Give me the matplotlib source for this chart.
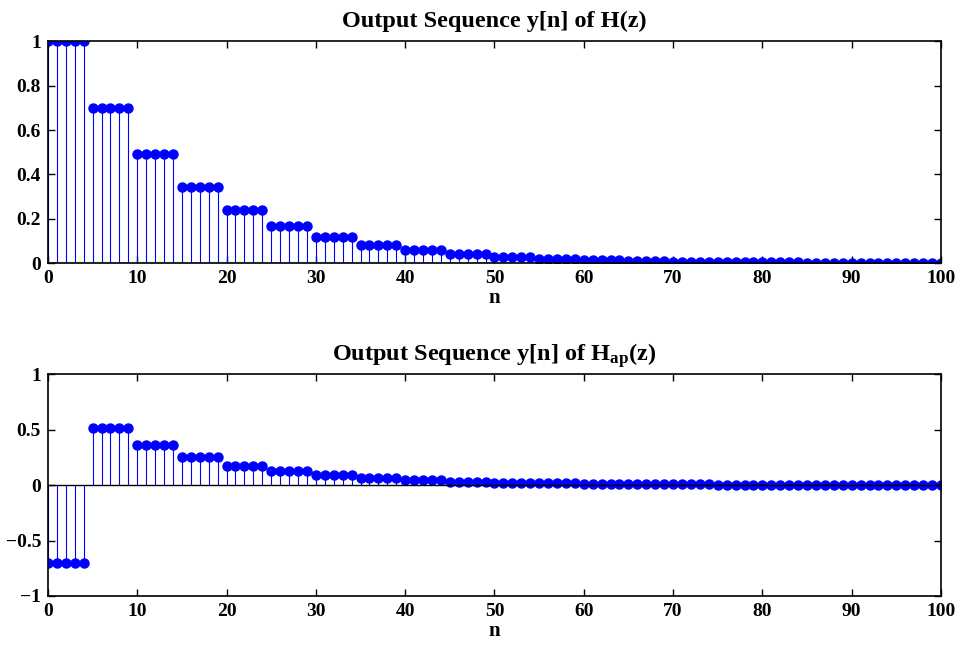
import numpy as np
import matplotlib
matplotlib.use("Agg")
import matplotlib.pyplot as plt

plt.rcParams["font.family"] = ["Liberation Serif", "DejaVu Serif"]
plt.rcParams["font.weight"] = "bold"
plt.rcParams["mathtext.fontset"] = "custom"
plt.rcParams["mathtext.rm"] = "Liberation Serif:bold"
plt.rcParams["mathtext.bf"] = "Liberation Serif:bold"
plt.rcParams["mathtext.it"] = "Liberation Serif:bold"

# sample index and values (levels held for 5 samples each)
n = np.arange(0, 101)
h_levels = [1.0, 0.70, 0.49, 0.343, 0.24, 0.168, 0.118, 0.082, 0.058, 0.040,
            0.028, 0.020, 0.014, 0.010, 0.007, 0.005, 0.0033, 0.0023, 0.0016, 0.0011, 0.0008]
ap_levels = [-0.70, 0.51, 0.357, 0.25, 0.175, 0.1225, 0.086, 0.060, 0.042, 0.029,
             0.021, 0.014, 0.010, 0.007, 0.005, 0.0035, 0.0025, 0.0017, 0.0012, 0.0008, 0.0006]
y_h = np.repeat(h_levels, 5)[:len(n)]
y_ap = np.repeat(ap_levels, 5)[:len(n)]

titles = ["Output Sequence y[n] of H(z)", r"Output Sequence y[n] of H$_{\mathrm{ap}}$(z)"]
yticks = [[0, 0.2, 0.4, 0.6, 0.8, 1], [-1, -0.5, 0, 0.5, 1]]
ylims = [(0, 1), (-1, 1)]

fig = plt.figure(figsize=(9.65, 6.45), dpi=100)
axes = [fig.add_axes([0.0497, 0.592, 0.9254, 0.344]),
        fig.add_axes([0.0497, 0.076, 0.9254, 0.344])]

for ax, y, t, yt, yl in zip(axes, [y_h, y_ap], titles, yticks, ylims):
    ml, sl, bl = ax.stem(n, y, linefmt="b-", markerfmt="o", basefmt="k-")
    ml.set_color("#0000ff"); ml.set_markersize(6.5)
    sl.set_color("#0000ff"); sl.set_linewidth(0.8)
    bl.set_linewidth(1.0)
    ax.set_xlim(0, 100); ax.set_ylim(*yl)
    ax.set_xticks(range(0, 101, 10)); ax.set_yticks(yt)
    ax.set_yticklabels([f"{v:g}".replace("-", "\u2212") for v in yt])
    ax.tick_params(direction="in", top=True, right=True, length=5, width=1,
                   labelsize=14, pad=5)
    for s in ax.spines.values():
        s.set_linewidth(1.2)
    ax.set_title(t, fontsize=17.5, fontweight="bold", pad=10)
    ax.set_xlabel("n", fontsize=15, fontweight="bold", labelpad=1)

fig.savefig("out.png", dpi=100)
